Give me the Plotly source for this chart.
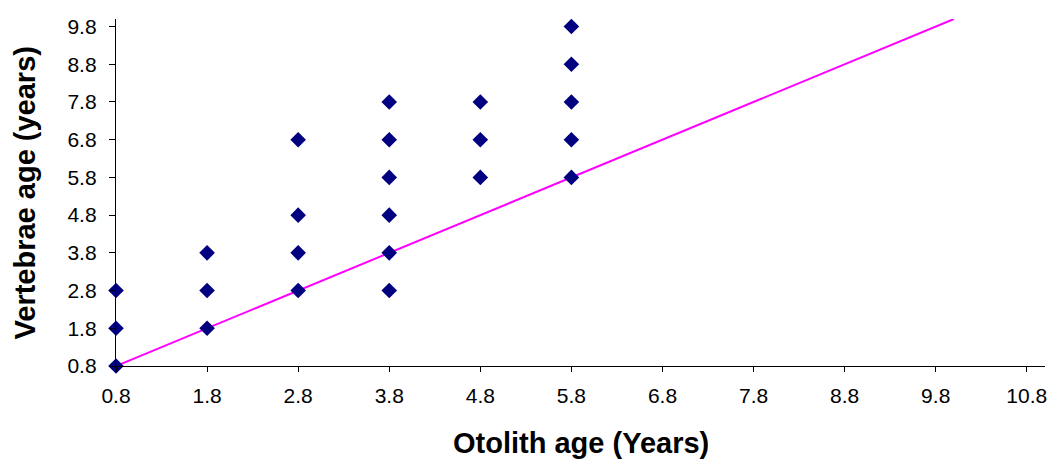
import plotly.graph_objects as go

# Data
otolith_age = [0.8, 0.8, 0.8,
               1.8, 1.8, 1.8,
               2.8, 2.8, 2.8, 2.8,
               3.8, 3.8, 3.8, 3.8, 3.8, 3.8,
               4.8, 4.8, 4.8,
               5.8, 5.8, 5.8, 5.8, 5.8]
vertebrae_age = [0.8, 1.8, 2.8,
                 1.8, 2.8, 3.8,
                 2.8, 3.8, 4.8, 6.8,
                 2.8, 3.8, 4.8, 5.8, 6.8, 7.8,
                 5.8, 6.8, 7.8,
                 5.8, 6.8, 7.8, 8.8, 9.8]
line_x = [0.8, 10.0]
line_y = [0.8, 10.0]
x_ticks = [0.8, 1.8, 2.8, 3.8, 4.8, 5.8, 6.8, 7.8, 8.8, 9.8, 10.8]
y_ticks = [0.8, 1.8, 2.8, 3.8, 4.8, 5.8, 6.8, 7.8, 8.8, 9.8]

fig = go.Figure()
fig.add_trace(go.Scatter(x=line_x, y=line_y, mode="lines",
                         line=dict(color="#FF00FF", width=2),
                         cliponaxis=False, showlegend=False, hoverinfo="skip"))
fig.add_trace(go.Scatter(x=otolith_age, y=vertebrae_age, mode="markers",
                         marker=dict(symbol="diamond", size=12, color="#000080",
                                     line=dict(width=0)),
                         cliponaxis=False, showlegend=False))

font_family = "Liberation Sans, Arial, sans-serif"
fig.update_layout(
    width=1052, height=460,
    margin=dict(l=116, r=5, t=19, b=94),
    paper_bgcolor="white", plot_bgcolor="white",
    font=dict(family=font_family, size=21, color="black"),
    xaxis=dict(range=[0.8, 11.0], tickvals=x_ticks, ticktext=[f"{v:.1f}" for v in x_ticks],
               showgrid=False, zeroline=False, showline=True, linecolor="black", linewidth=1.3,
               ticks="outside", ticklen=5, tickcolor="black", tickwidth=1.3,
               ticklabelstandoff=6,
               tickfont=dict(size=21, family=font_family, color="black")),
    yaxis=dict(range=[0.8, 10.0], tickvals=y_ticks, ticktext=[f"{v:.1f}" for v in y_ticks],
               showgrid=False, zeroline=False, showline=True, linecolor="black", linewidth=1.3,
               ticks="outside", ticklen=6, tickcolor="black", tickwidth=1.3,
               ticklabelstandoff=8,
               tickfont=dict(size=21, family=font_family, color="black")),
    annotations=[
        dict(text="<b>Otolith age (Years)</b>", xref="paper", yref="paper",
             x=0.5, y=-0.222, xanchor="center", yanchor="middle", showarrow=False,
             font=dict(size=29, family=font_family, color="black")),
        dict(text="<b>Vertebrae age (years)</b>", xref="paper", yref="paper",
             x=-0.098, y=0.5, xanchor="center", yanchor="middle", showarrow=False,
             textangle=-90, font=dict(size=29, family=font_family, color="black")),
    ],
)

fig.write_html("out.html", config={"displayModeBar": False},
               post_script="document.body.style.margin='0';")
